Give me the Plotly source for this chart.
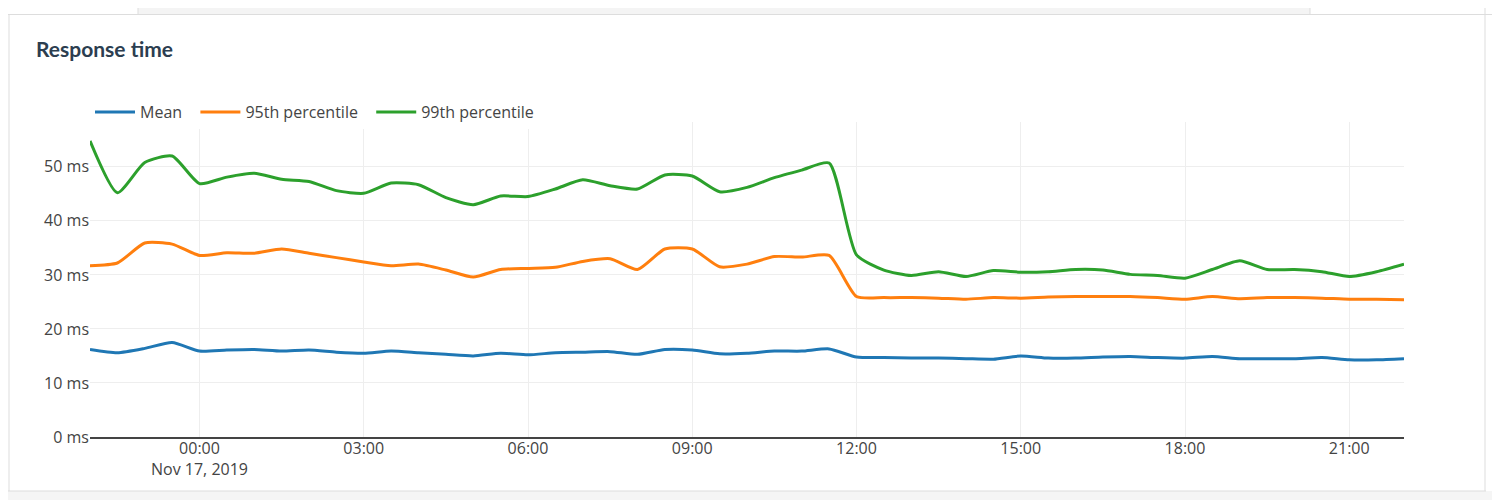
import pandas as pd
import plotly.graph_objects as go

# Response time samples, every 30 minutes
times = pd.date_range("2019-11-16 22:00", "2019-11-17 22:00", freq="30min")

mean_ms = [16.2, 15.6, 16.4, 17.5, 15.9, 16.1, 16.2, 15.9, 16.1, 15.7,
           15.5, 15.9, 15.6, 15.3, 15.0, 15.5, 15.2, 15.6, 15.7, 15.8,
           15.3, 16.2, 16.1, 15.4, 15.5, 15.9, 15.9, 16.3, 14.8, 14.7,
           14.6, 14.6, 14.5, 14.4, 15.0, 14.6, 14.6, 14.8, 14.9, 14.7,
           14.6, 14.9, 14.5, 14.5, 14.5, 14.7, 14.3, 14.3, 14.5]

p95_ms = [31.7, 32.2, 35.9, 35.7, 33.6, 34.1, 34.0, 34.8, 34.0, 33.2,
          32.4, 31.7, 32.0, 30.9, 29.6, 31.0, 31.2, 31.4, 32.5, 33.0,
          31.0, 34.8, 34.8, 31.5, 32.0, 33.4, 33.3, 33.6, 26.0, 25.8,
          25.8, 25.7, 25.5, 25.8, 25.7, 25.9, 26.0, 26.0, 26.0, 25.8,
          25.5, 26.0, 25.6, 25.8, 25.8, 25.7, 25.5, 25.5, 25.4]

p99_ms = [54.8, 45.2, 50.8, 52.0, 46.9, 48.1, 48.8, 47.7, 47.3, 45.6,
          45.1, 47.0, 46.7, 44.3, 43.0, 44.6, 44.5, 45.9, 47.6, 46.5,
          45.9, 48.5, 48.3, 45.4, 46.2, 48.0, 49.4, 50.7, 33.7, 30.9,
          29.9, 30.6, 29.7, 30.8, 30.5, 30.6, 31.0, 30.9, 30.1, 29.9,
          29.4, 31.0, 32.6, 31.0, 31.0, 30.6, 29.7, 30.6, 32.0]

series = [("Mean", mean_ms, "#1f77b4"),
          ("95th percentile", p95_ms, "#ff7f0e"),
          ("99th percentile", p99_ms, "#2ca02c")]

fig = go.Figure()
for name, vals, color in series:
    fig.add_trace(go.Scatter(
        x=times, y=vals, name=name + "\u00a0\u00a0", mode="lines",
        line=dict(color=color, width=3, shape="spline", smoothing=0.6),
        hovertemplate="%{y} ms<extra>" + name + "</extra>"
    ))

# the page body adds an 8px offset on the top/left, so the figure is
# 8px smaller and positions below are given in screen pixels
OFF = 8
W, H = 1500 - OFF, 500 - OFF
L, R, T, B = 90 - OFF, 96, 122 - OFF, 63
pw, ph = W - L - R, H - T - B


def px(x):
    return (x - OFF - L) / pw


def py(y):
    return (H - B - (y - OFF)) / ph


# card / tab decoration around the chart
border = "#dddddd"
shapes = [
    dict(type="rect", x0=px(138), x1=px(1310), y0=py(OFF), y1=py(14.5),
         fillcolor="#f4f4f4", line_width=0),
    dict(type="line", x0=px(OFF), x1=px(1493), y0=py(14.5), y1=py(14.5),
         line=dict(color=border, width=1)),
    dict(type="line", x0=px(138), x1=px(138), y0=py(OFF), y1=py(14.5),
         line=dict(color=border, width=1)),
    dict(type="line", x0=px(1310), x1=px(1310), y0=py(OFF), y1=py(14.5),
         line=dict(color=border, width=1)),
    dict(type="line", x0=px(9), x1=px(9), y0=py(14.5), y1=py(491),
         line=dict(color=border, width=1)),
    dict(type="line", x0=px(1485), x1=px(1485), y0=py(OFF), y1=py(491),
         line=dict(color=border, width=1)),
    dict(type="rect", x0=px(OFF), x1=px(1500), y0=py(491), y1=py(500),
         fillcolor="#f5f5f5", line_width=0),
    dict(type="line", x0=px(OFF), x1=px(1486), y0=py(491), y1=py(491),
         line=dict(color=border, width=1)),
]
for s in shapes:
    s.update(xref="paper", yref="paper", layer="below")

fig.update_layout(
    width=W, height=H,
    margin=dict(l=L, r=R, t=T, b=B),
    paper_bgcolor="white",
    plot_bgcolor="white",
    font=dict(family="Open Sans, sans-serif", size=16, color="#444"),
    title=dict(text="<b>Response time</b>", x=(36 - OFF) / W, xref="container",
               xanchor="left", y=1 - (50 - OFF) / H, yref="container",
               yanchor="middle",
               font=dict(family="Lato, sans-serif", size=21, color="#2c3e50")),
    legend=dict(orientation="h", x=0, xanchor="left", y=py(112),
                yanchor="middle", itemwidth=40,
                font=dict(size=16, color="#444")),
    showlegend=True,
    shapes=shapes,
    xaxis=dict(
        range=[times[0], times[-1]],
        tick0="2019-11-17 00:00", dtick=3 * 3600 * 1000,
        showgrid=True, gridcolor="#eeeeee",
        showline=True, linecolor="#444", linewidth=2,
        ticks="", zeroline=False, ticklabelstandoff=-4,
    ),
    yaxis=dict(
        range=[0, 58.3], dtick=10, ticksuffix=" ms",
        showgrid=True, gridcolor="#eeeeee", zeroline=False,
        ticks="",
    ),
)

fig.write_html("out.html")
